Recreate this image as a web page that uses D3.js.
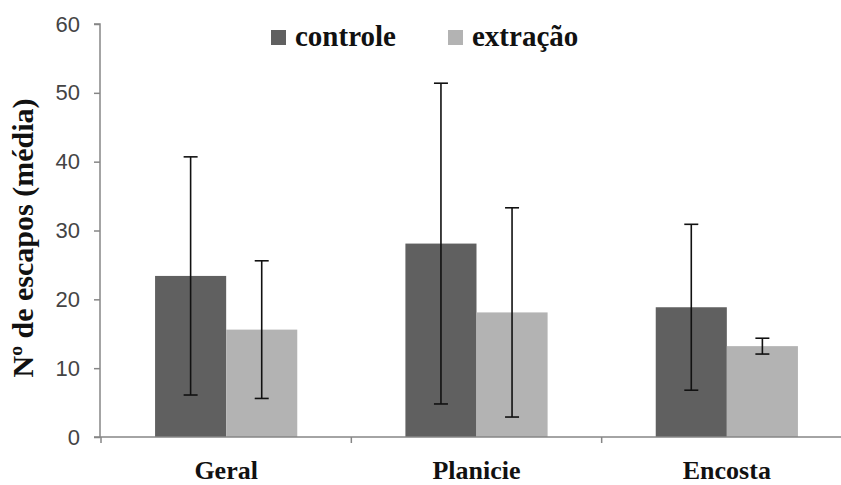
<!DOCTYPE html>
<html>
<head>
<meta charset="utf-8">
<script src="https://cdn.jsdelivr.net/npm/d3@7"></script>
<style>
  html, body { margin: 0; padding: 0; background: #fff; }
  svg { display: block; }
</style>
</head>
<body>
<svg id="chart" width="841" height="485"></svg>
<script>
const categories = ["Geral", "Planicie", "Encosta"];
const seriesNames = ["controle", "extração"];
const controleMeans = [23.4, 28.1, 18.85];
const controleErrors = [17.3, 23.3, 12.05];
const extracaoMeans = [15.6, 18.1, 13.2];
const extracaoErrors = [10.0, 15.2, 1.15];
const yTicks = [0, 10, 20, 30, 40, 50, 60];
const yLabel = "Nº de escapos (média)";

const colors = { "controle": "#606060", "extração": "#b3b3b3" };

const rows = [];
categories.forEach((c, i) => {
  rows.push({ cat: c, series: "controle", mean: controleMeans[i], err: controleErrors[i] });
  rows.push({ cat: c, series: "extração", mean: extracaoMeans[i], err: extracaoErrors[i] });
});

const svg = d3.select("#chart");
const x0 = 101, x1 = 852, yTop = 24, yBot = 437;

const x = d3.scaleBand().domain(categories).range([x0, x1])
  .paddingInner(0.432).paddingOuter(0.216);
const xs = d3.scaleBand().domain(seriesNames).range([0, x.bandwidth()]).padding(0);
const y = d3.scaleLinear().domain([0, 60]).range([yBot, yTop]);

// bars
svg.append("g").selectAll("rect").data(rows).join("rect")
  .attr("x", d => x(d.cat) + xs(d.series))
  .attr("y", d => y(d.mean))
  .attr("width", xs.bandwidth())
  .attr("height", d => y(0) - y(d.mean))
  .attr("fill", d => colors[d.series]);

// y axis
const yAxis = d3.axisLeft(y).tickValues(yTicks).tickSize(6).tickPadding(14).tickFormat(d3.format("d"));
const gy = svg.append("g").attr("transform", `translate(${x0 - 1},0)`).call(yAxis);
gy.select(".domain").attr("stroke", "#868686").attr("stroke-width", 1.5).attr("d", `M-6,${yTop}H0V${yBot}H-6`);
gy.selectAll(".tick line").attr("stroke", "#868686").attr("stroke-width", 1.5);
gy.selectAll(".tick text")
  .attr("fill", "#444")
  .style("font-family", "'Liberation Sans', Arial, sans-serif")
  .style("font-size", "22px");

// x axis
const gx = svg.append("g").attr("transform", `translate(0,${yBot})`);
gx.append("line").attr("x1", x0 - 1).attr("x2", 841).attr("y1", 0).attr("y2", 0)
  .attr("stroke", "#868686").attr("stroke-width", 1.5);
const bounds = categories.map(c => x(c) - x.step() * x.paddingOuter()).concat([x1]);
gx.selectAll("line.tk").data(bounds).join("line").attr("class", "tk")
  .attr("x1", d => d).attr("x2", d => d).attr("y1", 0).attr("y2", 6)
  .attr("stroke", "#868686").attr("stroke-width", 1.5);
gx.selectAll("text").data(categories).join("text")
  .attr("x", d => x(d) + x.bandwidth() / 2)
  .attr("y", 42)
  .attr("text-anchor", "middle")
  .attr("fill", "#111")
  .style("font-family", "'Liberation Serif', 'Times New Roman', serif")
  .style("font-weight", "bold")
  .style("font-size", "26px")
  .text(d => d);

// error bars
const eb = svg.append("g").attr("stroke", "#111").attr("stroke-width", 1.6);
rows.forEach(d => {
  const cx = x(d.cat) + xs(d.series) + xs.bandwidth() / 2;
  const yh = y(d.mean + d.err), yl = y(d.mean - d.err);
  eb.append("line").attr("x1", cx).attr("x2", cx).attr("y1", yh).attr("y2", yl);
  eb.append("line").attr("x1", cx - 7).attr("x2", cx + 7).attr("y1", yh).attr("y2", yh);
  eb.append("line").attr("x1", cx - 7).attr("x2", cx + 7).attr("y1", yl).attr("y2", yl);
});

// y label
svg.append("text")
  .attr("transform", "translate(33,238) rotate(-90)")
  .attr("text-anchor", "middle")
  .attr("fill", "#111")
  .style("font-family", "'Liberation Serif', 'Times New Roman', serif")
  .style("font-weight", "bold")
  .style("font-size", "30px")
  .text(yLabel);

// legend
const legendX = [271, 448];
const lg = svg.append("g");
seriesNames.forEach((s, i) => {
  lg.append("rect").attr("x", legendX[i]).attr("y", 30).attr("width", 15).attr("height", 15)
    .attr("fill", colors[s]);
  lg.append("text").attr("x", legendX[i] + 24).attr("y", 46)
    .attr("fill", "#111")
    .style("font-family", "'Liberation Serif', 'Times New Roman', serif")
    .style("font-weight", "bold")
    .style("font-size", "29px")
    .text(s);
});
</script>
</body>
</html>
